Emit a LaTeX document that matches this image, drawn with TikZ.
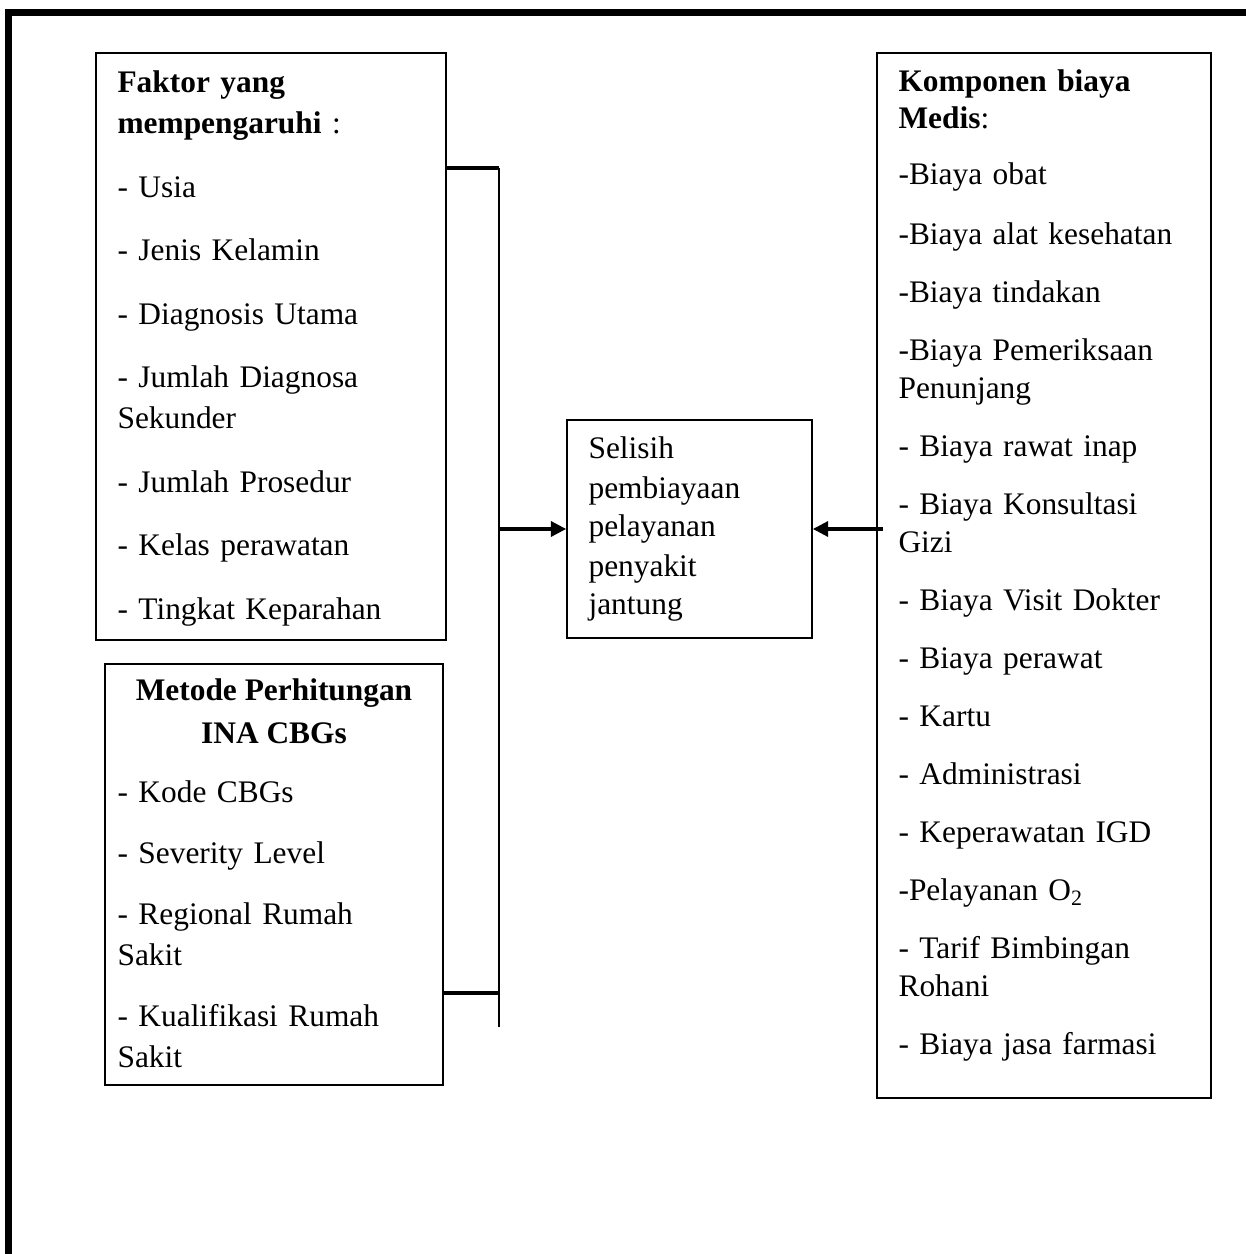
\documentclass[tikz,border=0pt]{standalone}
\usepackage{fontspec}
\setmainfont{Liberation Serif}
\usetikzlibrary{arrows.meta, fit}

\tikzset{
    box/.style={draw, line width=0.6pt, inner sep=0pt},
    txt/.style={anchor=base west, inner sep=0pt, align=left},
    link/.style={line width=1.2pt},
    arr/.style={line width=1.2pt, -{Triangle[length=5.5pt, width=5.4pt]}},
}

\begin{document}
\begin{tikzpicture}[x=0.36pt, y=-0.36pt]
        \useasboundingbox (0,0) rectangle (1246,1254);
        % Frame
        \draw[line width=2.2pt] (8.5,1270) -- (8.5,12.5) -- (1270,12.5);

        % Left boxes
        \node[box, fit={(96,53) (446,640)}] (faktor) {};
        \node[txt, text width=115pt, font=\fontsize{11.3}{14.76}\selectfont] (faktortxt) at (117,93) {%
            \textbf{Faktor yang}\\
            \textbf{mempengaruhi} :\\[8.1pt]
            - Usia\\[8.1pt]
            - Jenis Kelamin\\[8.1pt]
            - Diagnosis Utama\\[8.1pt]
            - Jumlah Diagnosa\\
            Sekunder\\[8.1pt]
            - Jumlah Prosedur\\[8.1pt]
            - Kelas perawatan\\[8.1pt]
            - Tingkat Keparahan};

        \node[box, fit={(105,664) (443,1085)}] (metode) {};
        \node[anchor=base, inner sep=0pt, align=center, font=\fontsize{11.3}{15.3}\selectfont\bfseries] (metodetitle) at (274,743) {Metode Perhitungan\\INA CBGs};
        \node[txt, text width=115pt, font=\fontsize{11.3}{14.76}\selectfont] (metodetxt) at (117,802) {%
            - Kode CBGs\\[7.2pt]
            - Severity Level\\[7.2pt]
            - Regional Rumah\\
            Sakit\\[7.2pt]
            - Kualifikasi Rumah\\
            Sakit};

        % Center box
        \node[box, fit={(567,420) (812,638)}] (selisih) {};
        \node[txt, text width=80pt, font=\fontsize{11.3}{14.04}\selectfont] (selisihtxt) at (588,459) {%
            Selisih\\pembiayaan\\pelayanan\\penyakit\\jantung};

        % Right box
        \node[box, fit={(877,53) (1211,1098)}] (komponen) {};
        \node[txt, text width=112pt, font=\fontsize{11.3}{13.68}\selectfont] (komponentxt) at (898,92) {%
            \textbf{Komponen biaya}\\[-0.7pt]
            \textbf{Medis}:\\[6.8pt]
            -Biaya obat\\[7.9pt]
            -Biaya alat kesehatan\\[7.2pt]
            -Biaya tindakan\\[7.2pt]
            -Biaya Pemeriksaan\\
            Penunjang\\[7.2pt]
            - Biaya rawat inap\\[7.2pt]
            - Biaya Konsultasi\\
            Gizi\\[7.2pt]
            - Biaya Visit Dokter\\[7.2pt]
            - Biaya perawat\\[7.2pt]
            - Kartu\\[7.2pt]
            - Administrasi\\[7.2pt]
            - Keperawatan IGD\\[7.2pt]
            -Pelayanan O\textsubscript{2}\\[7.2pt]
            - Tarif Bimbingan\\
            Rohani\\[7.2pt]
            - Biaya jasa farmasi};

        % Connectors
        \coordinate (bustop) at (499,168);
        \coordinate (busbot) at (499,993);
        \coordinate (busend) at (499,1027);
        \coordinate (rightin) at (883,575);
        \draw[link] (faktor.east |- bustop) -- (bustop);
        \draw[line width=0.6pt] (bustop) -- (busend);
        \draw[link] (metode.east |- busbot) -- (busbot);
        \draw[arr] (bustop |- selisih.west) -- (selisih.west);
        \draw[arr] (rightin |- selisih.east) -- (selisih.east);
    \end{tikzpicture}
\end{document}
